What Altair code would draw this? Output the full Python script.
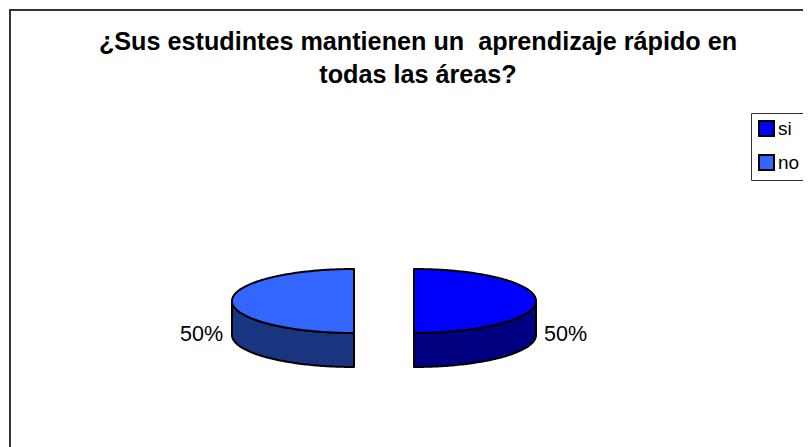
import numpy as np
import pandas as pd
import altair as alt

TITLE = ["¿Sus estudintes mantienen un \u00a0aprendizaje rápido en", "todas las áreas?"]
categories = ["si", "no"]
shares = [50, 50]
top_colors = ["#0000FF", "#3366FF"]
side_colors = ["#000080", "#1A3580"]

# Drawing area fits the page's 795 px content width; data units equal page pixels.
W, H = 795, 439
CX = {"si": 414.0, "no": 354.0}
DIRECTION = {"si": 1, "no": -1}
CY, RX, RY, DEPTH = 301.0, 122.0, 32.0, 34.0

rows_top, rows_side = [], []
for cat, share, shade in zip(categories, shares, side_colors):
    span = share / sum(shares) * 2 * np.pi
    for t in np.linspace(0, span / 2, 90):
        half = RY * np.cos(t)
        x = CX[cat] + DIRECTION[cat] * RX * np.sin(t)
        rows_top.append(dict(cat=cat, x=x, y=CY - half, y2=CY + half))
        rows_side.append(dict(cat=cat, shade=shade, x=x, y=CY + half, y2=CY + half + DEPTH))
df_top = pd.DataFrame(rows_top)
df_side = pd.DataFrame(rows_side)

xs = alt.Scale(domain=[8, 8 + W], range=[0, W], nice=False, zero=False)
ys = alt.Scale(domain=[8 + H, 8], range=[H, 0], nice=False, zero=False)
X = alt.X("x:Q", scale=xs, axis=None)
Y = alt.Y("y:Q", scale=ys, axis=None)

frame_df = pd.DataFrame({"x": [10.0], "x2": [860.0], "y": [10.0], "y2": [500.0]})
frame = alt.Chart(frame_df).mark_rect(fill="white", stroke="#333333", strokeWidth=2, clip=True).encode(
    x=X, x2="x2:Q", y=Y, y2="y2:Q")

side = alt.Chart(df_side).mark_area(orient="vertical", stroke="black", strokeWidth=2,
                                    strokeJoin="round").encode(
    x=X, y=Y, y2="y2:Q",
    color=alt.Color("shade:N", scale=None),
    detail="cat:N")

top = alt.Chart(df_top).mark_area(orient="vertical", stroke="black", strokeWidth=2,
                                  strokeJoin="round").encode(
    x=X, y=Y, y2="y2:Q",
    fill=alt.Fill("cat:N",
        scale=alt.Scale(domain=categories, range=top_colors),
        legend=alt.Legend(title=None, orient="none", legendX=743, legendY=105,
                          symbolType="square", symbolSize=225, symbolStrokeWidth=2,
                          symbolStrokeColor="black", symbolOpacity=1,
                          labelFont="Liberation Sans", labelFontSize=19, labelColor="black",
                          labelLimit=60, rowPadding=11, labelOffset=2,
                          fillColor="white", strokeColor="#333333", padding=6)))

lab_df = pd.DataFrame({"x": [565.5, 201.5], "y": [341.0, 341.0],
                       "label": [f"{s}%" for s in shares]})
labels = alt.Chart(lab_df).mark_text(font="Liberation Sans", fontSize=21.5, color="black",
                                     align="center", baseline="alphabetic").encode(
    x=X, y=Y, text="label:N")

title_df = pd.DataFrame({"x": [418.0, 418.0], "y": [50.0, 83.0], "label": TITLE})
title = alt.Chart(title_df).mark_text(font="Liberation Sans", fontSize=25.2, fontWeight="bold",
                                      color="black", align="center", baseline="alphabetic").encode(
    x=X, y=Y, text="label:N")

chart = alt.layer(frame, side, top, labels, title).resolve_scale(
    color="independent", fill="independent"
).properties(
    width=W, height=H, padding=0, autosize=alt.AutoSizeParams(type="none"),
    background="white").configure_view(stroke=None)

chart.save("out.html", embed_options={"renderer": "svg", "actions": False})
